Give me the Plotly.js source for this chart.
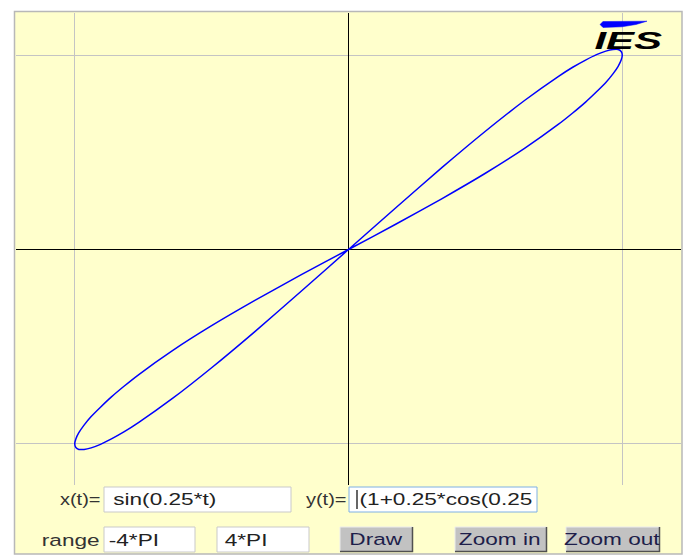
<!DOCTYPE html>
<html>
<head>
<meta charset="utf-8">
<script src="https://cdn.plot.ly/plotly-3.0.1.min.js"></script>
<style>
html,body{margin:0;padding:0;background:#fff;}
#chart{width:686px;height:558px;}
</style>
</head>
<body>
<div id="chart"></div>
<script>
// Curve points (parametric loop, t from -4*PI to 4*PI)
const curveX = [0, -0.174, -0.342, -0.500, -0.643, -0.766, -0.819, -0.866, -0.906, -0.940, -0.966, -0.985, -0.996, -1.000,
                -0.996, -0.985, -0.966, -0.940, -0.906, -0.866, -0.819, -0.766, -0.643, -0.500, -0.342, -0.174,
                0, 0.174, 0.342, 0.500, 0.643, 0.766, 0.819, 0.866, 0.906, 0.940, 0.966, 0.985, 0.996, 1.000,
                0.996, 0.985, 0.966, 0.940, 0.906, 0.866, 0.819, 0.766, 0.643, 0.500, 0.342, 0.174, 0];
const curveY = [0, -0.131, -0.262, -0.392, -0.520, -0.643, -0.702, -0.758, -0.811, -0.859, -0.903, -0.942, -0.974, -1.000,
                -1.018, -1.028, -1.028, -1.020, -1.002, -0.974, -0.937, -0.889, -0.766, -0.608, -0.422, -0.216,
                0, 0.216, 0.422, 0.608, 0.766, 0.889, 0.937, 0.974, 1.002, 1.020, 1.028, 1.028, 1.018, 1.000,
                0.974, 0.942, 0.903, 0.859, 0.811, 0.758, 0.702, 0.643, 0.520, 0.392, 0.262, 0.131, 0];

// Grid tick values
const gridTicks = [-1, 1];

// Texts of the applet controls
const labelTexts = ["x(t)=", "y(t)=", "range"];
const inputTexts = ["sin(0.25*t)", "(1+0.25*cos(0.25", "-4*PI", "4*PI"];
const buttonTexts = ["Draw", "Zoom in", "Zoom out"];
const logoText = "IES";

// ---------- layout helpers (pixel -> paper) ----------
const W = 686, H = 558;
const ML = 16, MR = 5, MT = 13, MB = 73;
const PW = W - ML - MR, PH = H - MT - MB;
const fx = px => (px - ML) / PW;
const fy = py => (H - MB - py) / PH;
const YEL = '#FFFFCC';

const shapes = [];
const annotations = [];
const scales = [];

function rect(x0, y0, x1, y1, fill, line, lw, layer) {
  shapes.push({type: 'rect', xref: 'paper', yref: 'paper', x0: fx(x0), x1: fx(x1), y0: fy(y1), y1: fy(y0),
    fillcolor: fill, line: {color: line || 'rgba(0,0,0,0)', width: lw || 0}, layer: layer || 'above'});
}
function poly(pts, color, lw, fill) {
  let d = pts.map((p, i) => (i ? 'L' : 'M') + fx(p[0]).toFixed(5) + ',' + fy(p[1]).toFixed(5)).join(' ');
  if (fill) d += ' Z';
  shapes.push({type: 'path', xref: 'paper', yref: 'paper', path: d,
    fillcolor: fill || 'rgba(0,0,0,0)', line: {color: color, width: lw}});
}
function text(t, cx, cy, size, color, sx, family) {
  annotations.push({text: t, xref: 'paper', yref: 'paper', x: fx(cx), y: fy(cy), xanchor: 'center', yanchor: 'middle',
    showarrow: false, font: {family: family || 'Liberation Sans, Arial, sans-serif', size: size, color: color}});
  scales.push(sx);
}

// panel background
rect(14.5, 11.5, 682, 554, YEL, '#b8b8b8', 1.5, 'below');

// input boxes
rect(104, 487, 291, 512, '#ffffff', '#c9c9c9', 1);
rect(349, 487, 537, 512, '#ffffff', '#7fb0e4', 1);
rect(104, 527, 195, 552, '#ffffff', '#c9c9c9', 1);
rect(217, 527, 309, 552, '#ffffff', '#c9c9c9', 1);
// text cursor
poly([[357, 490], [357, 509]], '#000000', 1.2);

// buttons
[[340, 413], [455, 547], [566, 660]].forEach(b => {
  rect(b[0], 527, b[1], 552, '#c2c2c2');
  poly([[b[0], 552], [b[0], 527], [b[1], 527]], '#ececec', 1);
  poly([[b[0], 551.5], [b[1] - 0.5, 551.5], [b[1] - 0.5, 527]], '#505050', 1.5);
});

// logo swoosh
poly([[603, 21.5], [647, 21.2], [636, 24.5], [622, 26.8], [603, 27.5], [600, 24.5], [603, 21.5]], '#0000ff', 0.5, '#0000ff');

// texts
const SX = 1.33;
text(labelTexts[0], 80, 499.5, 16, '#333333', 1.25);
text(labelTexts[1], 326, 499.5, 16, '#333333', 1.25);
text(labelTexts[2], 70, 540, 17, '#333333', SX);
text(inputTexts[0], 164.5, 499.5, 17, '#222222', SX);
text(inputTexts[1], 446, 499.5, 17, '#222222', SX);
text(inputTexts[2], 134, 540, 17, '#222222', SX);
text(inputTexts[3], 245.5, 540, 17, '#222222', SX);
text(buttonTexts[0], 375.5, 539.5, 17, '#1e1e4a', SX);
text(buttonTexts[1], 499, 539.5, 17, '#1e1e4a', SX);
text(buttonTexts[2], 612, 539.5, 17, '#1e1e4a', SX);
text('<b><i>' + logoText + '</i></b>', 628, 40.5, 24, '#000000', 1.75);

const trace = {
  x: curveX, y: curveY, type: 'scatter', mode: 'lines',
  line: {color: '#0000ff', width: 1.5, shape: 'spline', smoothing: 0.6},
  hoverinfo: 'skip'
};

const axisBase = {
  tickvals: gridTicks, showticklabels: false, ticks: '', showline: false,
  showgrid: true, gridcolor: '#c4c4c4', gridwidth: 1,
  zeroline: true, zerolinecolor: '#000000', zerolinewidth: 1, fixedrange: true
};

const layout = {
  width: W, height: H,
  margin: {l: ML, r: MR, t: MT, b: MB, pad: 0},
  paper_bgcolor: '#ffffff', plot_bgcolor: YEL,
  showlegend: false,
  xaxis: Object.assign({}, axisBase, {range: [-1.2146, 1.2146]}),
  yaxis: Object.assign({}, axisBase, {range: [-1.211, 1.216]}),
  shapes: shapes,
  annotations: annotations
};

Plotly.newPlot('chart', [trace], layout, {staticPlot: true, displayModeBar: false}).then(() => {
  document.querySelectorAll('g.annotation').forEach((g, i) => {
    const t = g.querySelector('text');
    if (!t) return;
    t.style.transformBox = 'fill-box';
    t.style.transformOrigin = '50% 50%';
    t.style.transform = 'scaleX(' + scales[i] + ')';
  });
});
</script>
</body>
</html>
